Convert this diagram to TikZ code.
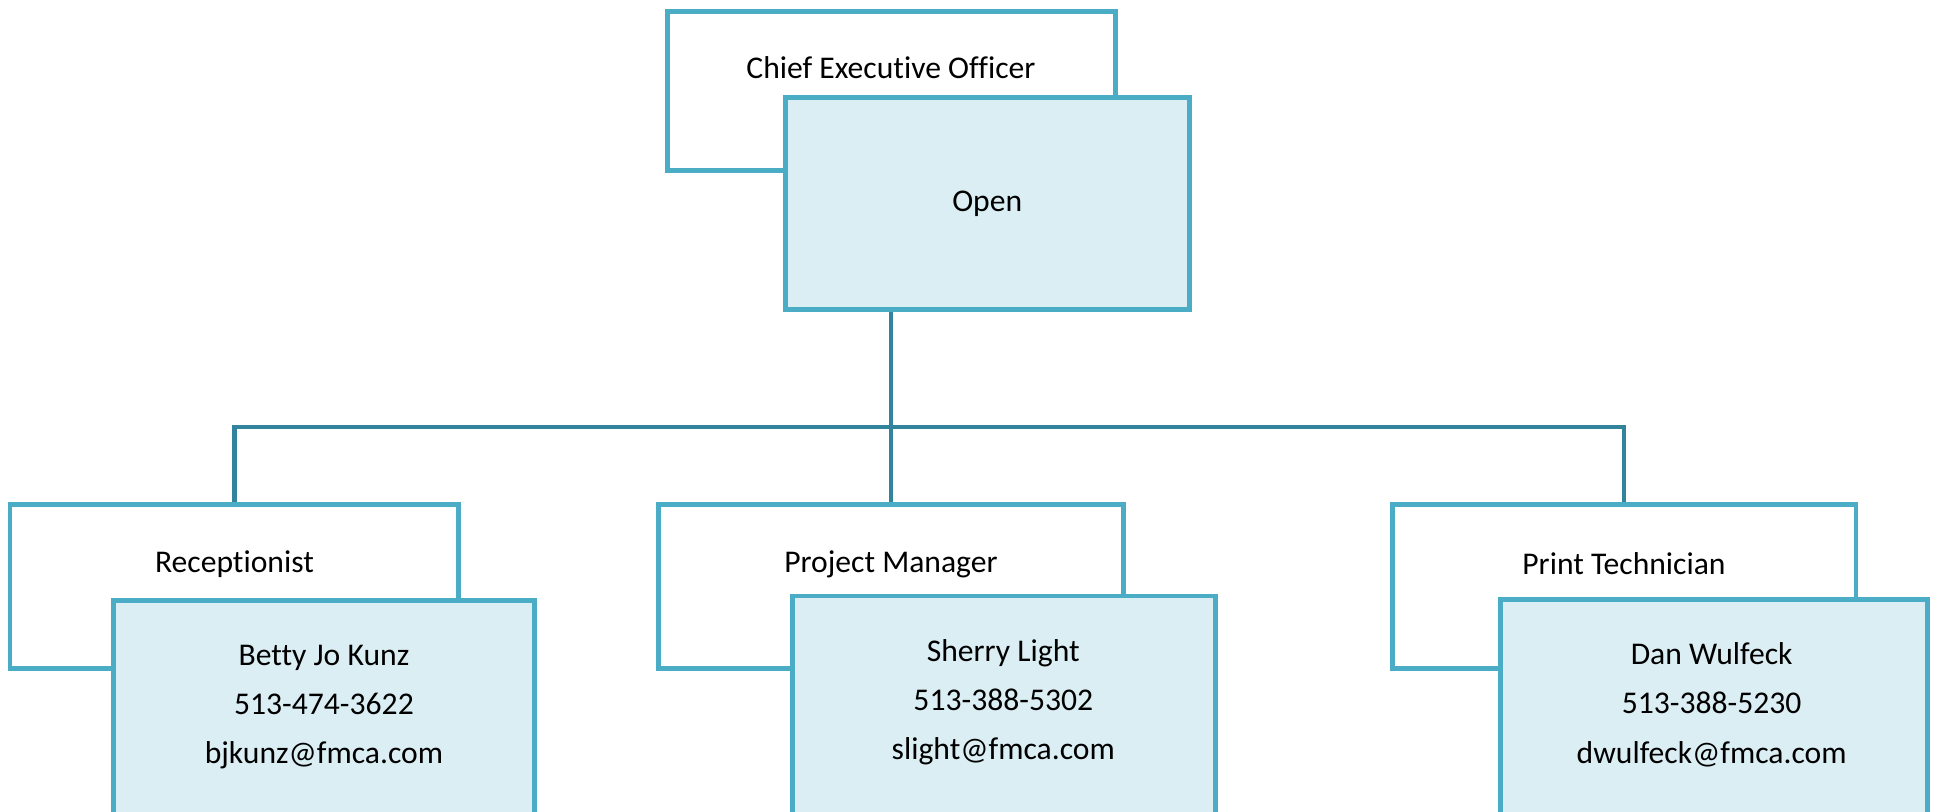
\documentclass[tikz,border=0pt]{standalone}
\usepackage{fontspec}
\setmainfont{Carlito}[Ligatures=NoCommon]
\definecolor{boxline}{HTML}{4BACC6}
\definecolor{boxfill}{HTML}{DAEEF3}
\definecolor{linkline}{HTML}{31849B}
\tikzset{
  titlebox/.style={draw=boxline, line width=1.4pt, fill=white, rectangle, inner sep=0pt},
  namebox/.style={draw=boxline, line width=1.4pt, fill=boxfill, rectangle, inner sep=0pt},
  txt/.style={inner sep=0pt, align=center, font=\fontsize{9}{14}\selectfont},
  link/.style={draw=linkline, line width=1.2pt}
}
\begin{document}
\begin{tikzpicture}[x=0.01234cm, y=-0.01234cm]
    \useasboundingbox (0,0) rectangle (1568,658);
    \clip (0,0) rectangle (1568,658);
    % top
    \node[titlebox, minimum width=4.48cm, minimum height=1.59cm] (ceo) at (722.5,73.5) {};
    \node[txt] (ceo-t) at (722,55) {Chief Executive Officer};
    \node[namebox, minimum width=4.04cm, minimum height=2.12cm] (open) at (800.5,165) {};
    \node[txt] (open-t) at (800,165) {Open};
    % staff
    \node[titlebox, minimum width=4.49cm, minimum height=1.64cm] (rec) at (190,475.5) {};
    \node[txt] (rec-t) at (190,457) {Receptionist};
    \node[namebox, minimum width=4.21cm, minimum height=2.63cm] (betty) at (262.5,593.5) {};
    \node[txt] (betty-t) at (262.5,573) {Betty Jo Kunz\\513-474-3622\\bjkunz@fmca.com};
    \node[titlebox, minimum width=4.66cm, minimum height=1.64cm] (pm) at (722,475.5) {};
    \node[txt] (pm-t) at (722,457) {Project Manager};
    \node[namebox, minimum width=4.23cm, minimum height=2.68cm] (sherry) at (813.5,591.5) {};
    \node[txt] (sherry-t) at (813,569) {Sherry Light\\513-388-5302\\slight@fmca.com};
    \node[titlebox, minimum width=4.64cm, minimum height=1.64cm] (pt) at (1316,475.5) {};
    \node[txt] (pt-t) at (1316,457) {Print Technician};
    \node[namebox, minimum width=4.27cm, minimum height=2.64cm] (dan) at (1389,593) {};
    \node[txt] (dan-t) at (1387,571) {Dan Wulfeck\\513-388-5230\\dwulfeck@fmca.com};
    % connectors
    \coordinate (hub) at (722,346);
    \draw[link] (open.south -| hub) -- (hub);
    \draw[link] (hub) -| (rec.north);
    \draw[link] (hub) -- (pm.north);
    \draw[link] (hub) -| (pt.north);
\end{tikzpicture}
\end{document}
